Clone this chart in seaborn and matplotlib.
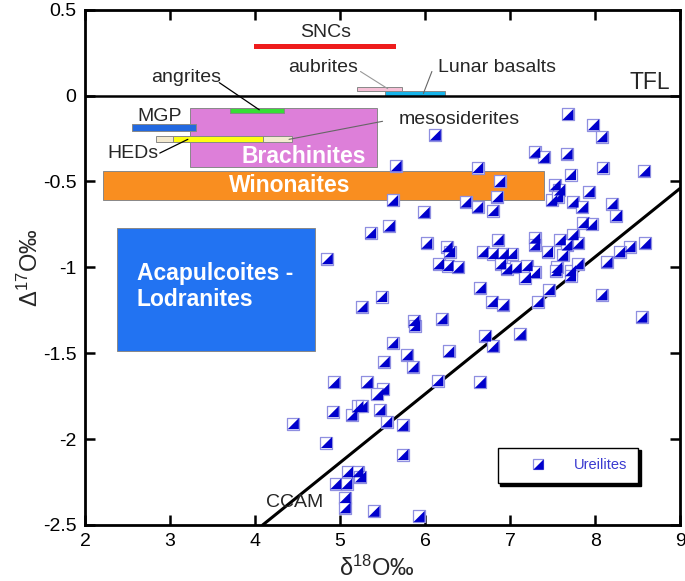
import matplotlib
matplotlib.use("Agg")
import matplotlib.pyplot as plt
from matplotlib.patches import Rectangle
from matplotlib.lines import Line2D
from matplotlib.legend_handler import HandlerTuple
import seaborn as sns
import numpy as np
import pandas as pd

# ---------------- data ----------------
d18O = [7.68, 7.98, 8.08, 6.12, 7.29, 7.40, 7.67, 5.66, 6.62, 8.09, 8.58, 7.71, 6.88, 7.53,
        7.58, 7.93, 6.85, 7.49, 7.56, 7.74, 7.85, 8.20, 8.25, 5.62, 6.48, 6.62, 6.80, 5.99,
        5.36, 5.58, 7.86, 7.96, 6.02, 6.26, 6.29, 6.86, 7.29, 7.29, 7.59, 7.74, 7.80, 7.67,
        8.59, 8.41, 8.29, 8.14, 4.85, 6.16, 6.27, 6.39, 6.68, 6.80, 6.92, 7.02, 6.89, 6.96,
        7.07, 7.20, 7.18, 7.29, 7.44, 7.62, 7.55, 7.54, 7.71, 7.71, 7.80, 6.65, 6.79, 6.92,
        7.33, 7.46, 8.08, 8.55, 5.49, 5.26, 5.87, 5.88, 6.20, 5.62, 6.28, 5.52, 5.79, 5.86,
        6.71, 6.80, 7.12, 6.15, 6.65, 4.93, 5.32, 5.51, 5.44, 4.45, 4.92, 5.14, 5.21, 5.47,
        5.55, 5.74, 4.84, 5.74, 5.09, 5.21, 5.24, 4.95, 5.08, 5.06, 5.06, 5.40, 5.93, 5.26]
D17O = [-0.11, -0.17, -0.24, -0.23, -0.33, -0.36, -0.34, -0.41, -0.42, -0.42, -0.44, -0.46,
        -0.50, -0.52, -0.55, -0.56, -0.59, -0.61, -0.59, -0.62, -0.65, -0.63, -0.70, -0.61,
        -0.62, -0.65, -0.67, -0.68, -0.80, -0.76, -0.74, -0.75, -0.86, -0.88, -0.91, -0.84,
        -0.83, -0.87, -0.84, -0.81, -0.86, -0.87, -0.86, -0.88, -0.91, -0.97, -0.95, -0.98,
        -0.99, -1.00, -0.91, -0.92, -0.92, -0.92, -0.98, -1.01, -1.00, -0.99, -1.06, -1.03,
        -0.91, -0.93, -1.00, -1.02, -1.02, -1.05, -0.98, -1.12, -1.20, -1.22, -1.20, -1.13,
        -1.16, -1.29, -1.17, -1.23, -1.31, -1.34, -1.30, -1.44, -1.49, -1.55, -1.51, -1.58,
        -1.40, -1.46, -1.39, -1.66, -1.67, -1.67, -1.67, -1.71, -1.74, -1.91, -1.84, -1.86,
        -1.81, -1.83, -1.90, -1.92, -2.02, -2.09, -2.19, -2.19, -2.22, -2.26, -2.26, -2.34,
        -2.40, -2.42, -2.45, -1.81]

# meteorite group fields (x range in d18O, y range in D17O)
groups = ["SNCs", "aubrites", "Lunar basalts", "angrites", "MGP", "Brachinites",
          "mesosiderites", "HEDs", "Winonaites", "Acapulcoites -\nLodranites"]
group_x0 = [3.99, 5.20, 5.53, 3.70, 2.55, 3.23, 2.84, 3.04, 2.21, 2.38]
group_x1 = [5.66, 5.73, 6.23, 4.34, 3.31, 5.43, 4.44, 4.09, 7.40, 4.71]
group_y0 = [0.272, 0.025, 0.000, -0.100, -0.206, -0.417, -0.273, -0.273, -0.606, -1.49]
group_y1 = [0.300, 0.052, 0.025, -0.073, -0.167, -0.071, -0.235, -0.235, -0.437, -0.77]
group_colors = ["#ee1c1c", "#f6bfd6", "#17b4ea", "#36de36", "#2369e0", "#dd7fd9",
                "#f4ead0", "#ffff10", "#f98e20", "#2273f2"]

# CCAM line end points
ccam_x = [4.09, 9.0]
ccam_y = [-2.50, -0.54]

xticks = [2, 3, 4, 5, 6, 7, 8, 9]
yticks = [0.5, 0, -0.5, -1, -1.5, -2, -2.5]
ytick_labels = ["0.5", "0", "-0.5", "-1", "-1.5", "-2", "-2.5"]

# ---------------- style ----------------
sns.set_style("ticks")
plt.rcParams["font.family"] = ["Liberation Sans", "DejaVu Sans"]
plt.rcParams["mathtext.fontset"] = "custom"
plt.rcParams["mathtext.rm"] = "Liberation Sans"
plt.rcParams["mathtext.it"] = "Liberation Sans:italic"
plt.rcParams["mathtext.bf"] = "Liberation Sans:bold"

fig = plt.figure(figsize=(6.85, 5.81), dpi=100)
ax = fig.add_axes([0.124, 0.0964, 0.869, 0.887])

# group fields
draw_order = [9, 8, 5, 4, 3, 6, 7, 1, 2, 0]
for i in draw_order:
    ec = "#888888" if i != 0 else "none"
    ax.add_patch(Rectangle((group_x0[i], group_y0[i]), group_x1[i] - group_x0[i],
                           group_y1[i] - group_y0[i], facecolor=group_colors[i],
                           edgecolor=ec, linewidth=0.7, zorder=2))

# TFL
ax.axhline(0, color="black", lw=1.8, zorder=3)
# CCAM
sns.lineplot(x=ccam_x, y=ccam_y, color="black", lw=2.2, ax=ax, zorder=3)

# Ureilites
df = pd.DataFrame({"d18O": d18O, "D17O": D17O})
tri = [(-1, -1), (1, -1), (1, 1), (-1, -1)]
sns.scatterplot(data=df, x="d18O", y="D17O", marker="s", s=64, color="white",
                edgecolor="#8f8fe0", linewidth=0.9, ax=ax, zorder=4)
sns.scatterplot(data=df, x="d18O", y="D17O", marker=tri, s=64, color="#0000cc",
                edgecolor="none", linewidth=0, ax=ax, zorder=5)

# labels of fields
fs = 14
ax.text(4.83, 0.365, "SNCs", fontsize=fs, ha="center", va="center", zorder=6)
ax.text(4.80, 0.165, "aubrites", fontsize=fs, ha="center", va="center", zorder=6)
ax.plot([5.24, 5.56], [0.14, 0.04], color="#999999", lw=0.8, zorder=6)
ax.text(6.85, 0.165, "Lunar basalts", fontsize=fs, ha="center", va="center", zorder=6)
ax.plot([6.08, 5.98], [0.14, 0.012], color="#666666", lw=0.8, zorder=6)
ax.text(8.88, 0.075, "TFL", fontsize=16.5, ha="right", va="center", zorder=6)
ax.text(3.19, 0.105, "angrites", fontsize=fs, ha="center", va="center", zorder=6)
ax.plot([3.58, 4.05], [0.075, -0.083], color="black", lw=0.9, zorder=6)
ax.text(2.88, -0.12, "MGP", fontsize=fs, ha="center", va="center", zorder=6)
ax.text(2.56, -0.34, "HEDs", fontsize=fs, ha="center", va="center", zorder=6)
ax.plot([2.88, 3.21], [-0.335, -0.255], color="black", lw=0.9, zorder=6)
ax.text(6.40, -0.14, "mesosiderites", fontsize=fs, ha="center", va="center", zorder=6)
ax.plot([5.50, 4.40], [-0.15, -0.255], color="#666666", lw=0.8, zorder=6)
ax.text(4.57, -0.355, "Brachinites", fontsize=16.5, fontweight="bold", color="white",
        ha="center", va="center", zorder=6)
ax.text(4.41, -0.525, "Winonaites", fontsize=16.5, fontweight="bold", color="white",
        ha="center", va="center", zorder=6)
ax.text(2.61, -1.11, "Acapulcoites -\nLodranites", fontsize=16.5, fontweight="bold",
        color="white", ha="left", va="center", linespacing=1.15, zorder=6)
ax.text(4.47, -2.37, "CCAM", fontsize=fs, ha="center", va="center", zorder=6)

# axes
ax.set_xlim(2, 9)
ax.set_ylim(-2.5, 0.5)
ax.set_xticks(xticks)
ax.set_xticklabels([str(t) for t in xticks])
ax.set_yticks(yticks)
ax.set_yticklabels(ytick_labels)
ax.tick_params(direction="in", length=7, width=1.8, top=True, right=True,
               labelsize=14, pad=6, colors="black")
for sp in ax.spines.values():
    sp.set_linewidth(2.0)
    sp.set_color("black")
ax.set_xlabel("δ$^{18}$O‰", fontsize=17)
ax.set_ylabel("Δ$^{17}$O‰", fontsize=17)
ax.xaxis.set_label_coords(0.49, -0.06)
ax.yaxis.set_label_coords(-0.07, 0.5)

# legend
h_sq = Line2D([], [], marker="s", ls="none", markersize=7.5, markerfacecolor="white",
              markeredgecolor="#8f8fe0", markeredgewidth=0.9)
h_tr = Line2D([], [], marker=tri, ls="none", markersize=7.5, markerfacecolor="#0000cc",
              markeredgecolor="none")
leg = ax.legend([(h_sq, h_tr)], ["Ureilites"], handler_map={tuple: HandlerTuple(ndivide=1)},
                loc="center", bbox_to_anchor=(0.811, 0.1155), fontsize=10.5,
                frameon=True, fancybox=False, shadow={"color": "black", "alpha": 1},
                edgecolor="black", handlelength=4.1, handletextpad=0.35,
                borderpad=0.75, borderaxespad=0)
leg.get_frame().set_linewidth(1.0)
leg.get_frame().set_facecolor("white")
leg.get_frame().set_alpha(1)
for t in leg.get_texts():
    t.set_color("#3a3ad0")
leg.set_zorder(10)

fig.savefig("out.png", dpi=100)
